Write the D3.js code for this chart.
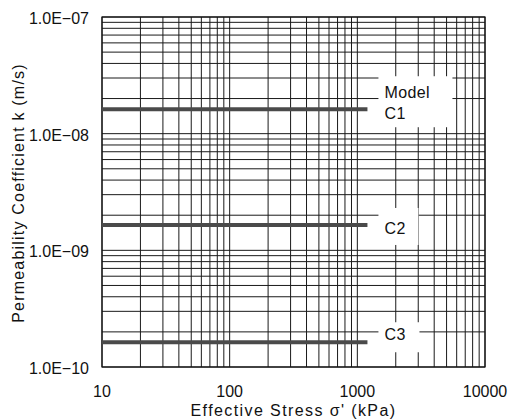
<!DOCTYPE html>
<html>
<head>
<meta charset="utf-8">
<script src="https://cdn.jsdelivr.net/npm/d3@7"></script>
<style>
  body { margin: 0; background: #fff; }
  svg { font-family: "Liberation Sans", Arial, sans-serif; }
</style>
</head>
<body>
<div id="chart"></div>
<script>
// data
const models = ['C1', 'C2', 'C3'];
const kValues = [1.62e-8, 1.65e-9, 1.63e-10];
const stressStart = [10, 10, 10];
const stressEnd = [1200, 1200, 1200];
const xTicks = [10, 100, 1000, 10000];
const xTickLabels = ['10', '100', '1000', '10000'];
const yTicks = [1e-10, 1e-9, 1e-8, 1e-7];
const yTickLabels = ['1.0E\u221210', '1.0E\u221209', '1.0E\u221208', '1.0E\u221207'];

const width = 510, height = 420;
const margin = {top: 17, right: 25, bottom: 53, left: 102};
const w = width - margin.left - margin.right;
const h = height - margin.top - margin.bottom;

// label box layout (relative to line end / line level)
const labelBox = [
  {top: -33, bottom: 18, width: 74, textDy: 10},
  {top: -17, bottom: 20, width: 40, textDy: 9},
  {top: -20, bottom: 10, width: 41, textDy: -2}
];

const svg = d3.select('#chart').append('svg')
    .attr('width', width)
    .attr('height', height);

const g = svg.append('g')
    .attr('transform', `translate(${margin.left},${margin.top})`);

const x = d3.scaleLog().domain([10, 10000]).range([0, w]);
const y = d3.scaleLog().domain([1e-10, 1e-7]).range([h, 0]);

// full log grid (1..9 in every decade)
const xGrid = [], yGrid = [];
for (let e = 1; e <= 4; e++) for (let m = 1; m <= 9; m++) {
  const v = m * Math.pow(10, e);
  if (v >= 10 && v <= 10000) xGrid.push(v);
}
for (let e = -10; e <= -7; e++) for (let m = 1; m <= 9; m++) {
  const v = m * Math.pow(10, e);
  if (v >= 1e-10 * 0.999 && v <= 1e-7 * 1.001) yGrid.push(v);
}

g.selectAll('.vgrid').data(xGrid).enter().append('line')
    .attr('class', 'vgrid')
    .attr('x1', d => x(d)).attr('x2', d => x(d))
    .attr('y1', 0).attr('y2', h)
    .attr('stroke', '#1a1a1a').attr('stroke-width', 1);

g.selectAll('.hgrid').data(yGrid).enter().append('line')
    .attr('class', 'hgrid')
    .attr('x1', 0).attr('x2', w)
    .attr('y1', d => y(d)).attr('y2', d => y(d))
    .attr('stroke', '#1a1a1a').attr('stroke-width', 1);

g.append('rect')
    .attr('width', w).attr('height', h)
    .attr('fill', 'none').attr('stroke', '#111').attr('stroke-width', 1.2);

// model lines
const lines = models.map((m, i) => ({name: m, k: kValues[i], x0: stressStart[i], x1: stressEnd[i], box: labelBox[i]}));

g.selectAll('.kline').data(lines).enter().append('line')
    .attr('class', 'kline')
    .attr('x1', d => x(d.x0)).attr('x2', d => x(d.x1))
    .attr('y1', d => y(d.k)).attr('y2', d => y(d.k))
    .attr('stroke', '#4a4a4a').attr('stroke-width', 4);

// labels with white boxes
const lab = g.selectAll('.lab').data(lines).enter().append('g')
    .attr('class', 'lab')
    .attr('transform', d => `translate(${x(d.x1) + 11},${y(d.k)})`);

lab.append('rect')
    .attr('x', 0)
    .attr('y', d => d.box.top)
    .attr('width', d => d.box.width)
    .attr('height', d => d.box.bottom - d.box.top)
    .attr('fill', '#fff');

lab.filter((d, i) => i === 0).append('text')
    .attr('x', 6).attr('y', -11)
    .attr('font-size', 16).attr('letter-spacing', 0.4).attr('fill', '#111')
    .text('Model');

lab.append('text')
    .attr('x', 6).attr('y', d => d.box.textDy)
    .attr('font-size', 16).attr('letter-spacing', 0.4).attr('fill', '#111')
    .text(d => d.name);

// tick labels
svg.selectAll('.ylab').data(yTicks).enter().append('text')
    .attr('class', 'ylab')
    .attr('x', 89)
    .attr('y', d => margin.top + y(d) + 7)
    .attr('text-anchor', 'end')
    .attr('font-size', 16).attr('fill', '#111')
    .text((d, i) => yTickLabels[i]);

svg.selectAll('.xlab').data(xTicks).enter().append('text')
    .attr('class', 'xlab')
    .attr('x', d => margin.left + x(d))
    .attr('y', 397)
    .attr('text-anchor', 'middle')
    .attr('font-size', 16).attr('fill', '#111')
    .text((d, i) => xTickLabels[i]);

// axis titles
svg.append('text')
    .attr('x', margin.left + w / 2)
    .attr('y', 416)
    .attr('text-anchor', 'middle')
    .attr('font-size', 16).attr('letter-spacing', 1.4).attr('fill', '#111')
    .text("Effective Stress \u03c3' (kPa)");

svg.append('text')
    .attr('transform', `translate(24,${margin.top + h / 2 + 1}) rotate(-90)`)
    .attr('text-anchor', 'middle')
    .attr('font-size', 16).attr('letter-spacing', 1.2).attr('fill', '#111')
    .text('Permeability Coefficient k (m/s)');
</script>
</body>
</html>
